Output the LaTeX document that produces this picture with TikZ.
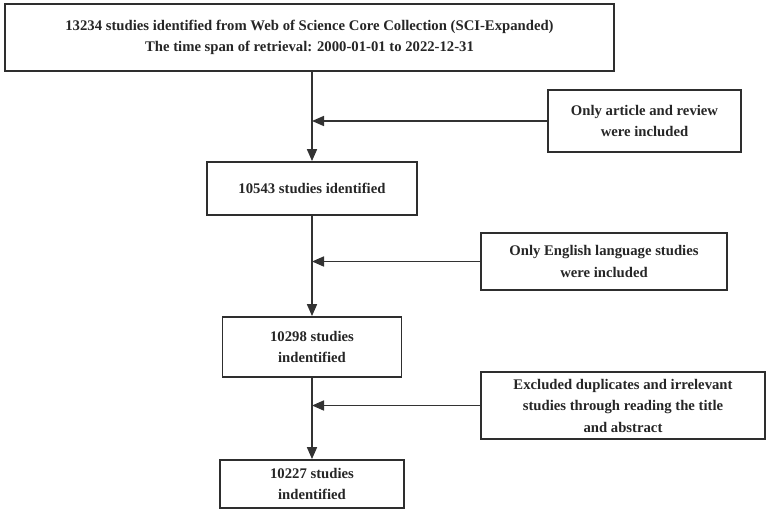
\documentclass[tikz,border=0pt]{standalone}
\usepackage{fontspec}
\setmainfont{Liberation Serif}
\usetikzlibrary{arrows.meta}
\begin{document}
\begin{tikzpicture}[x=1pt,y=-1pt,
  box/.style={draw=black!82,line width=1.8pt,rectangle,align=center,inner sep=0pt,font=\bfseries\fontsize{14.7}{21.5}\selectfont,text=black!85},
  arr/.style={draw=black!80,line width=1.7pt,-{Triangle[length=12pt,width=10pt]}}]
\useasboundingbox (0,0) rectangle (767,511);
\node[box,minimum width=609pt,minimum height=67pt] (top) at (309.5,37.5) {13234 studies identified from Web of Science Core Collection (SCI-Expanded)\\The time span of retrieval: 2000-01-01 to 2022-12-31};
\node[box,minimum width=193pt,minimum height=62pt] (ea) at (644.5,121) {Only article and review\\were included};
\node[box,minimum width=210pt,minimum height=53pt] (b1) at (312,188.5) {10543 studies identified};
\node[box,minimum width=246pt,minimum height=57pt] (eb) at (604,261.5) {Only English language studies\\were included};
\node[box,minimum width=179pt,minimum height=60pt] (b2) at (312,347) {10298 studies\\indentified};
\node[box,minimum width=284pt,minimum height=67pt] (ec) at (623,405.5) {Excluded duplicates and irrelevant\\studies through reading the title\\and abstract};
\node[box,minimum width=184pt,minimum height=48pt] (b3) at (312,484) {10227 studies\\indentified};
\draw[arr] (top.south -| b1.north) -- (b1.north);
\draw[arr] (b1.south) -- (b2.north);
\draw[arr] (b2.south) -- (b3.north);
\draw[arr] (ea.west) -- (ea.west -| b1.center);
\draw[arr] (eb.west) -- (eb.west -| b1.center);
\draw[arr] (ec.west) -- (ec.west -| b1.center);
\end{tikzpicture}
\end{document}
